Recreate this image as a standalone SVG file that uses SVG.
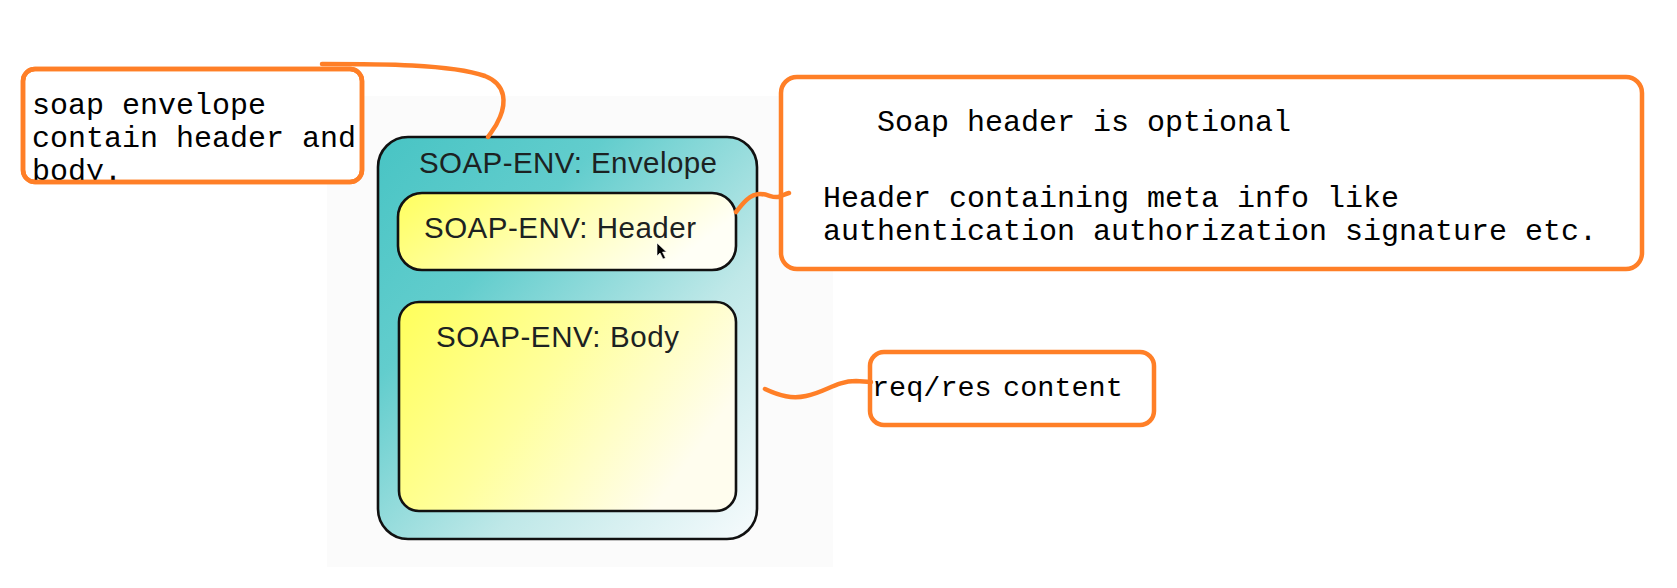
<svg xmlns="http://www.w3.org/2000/svg" width="1677" height="588" viewBox="0 0 1677 588">
  <style>
    .note { fill: #ffffff; stroke: #ff7f27; stroke-width: 4.5; }
    .mono { font-family: "Liberation Mono", "Courier New", monospace; font-size: 30px; fill: #000000; }
    .sans { font-family: "Liberation Sans", Arial, sans-serif; font-size: 29.5px; fill: #1c2222; }
    .box { stroke: #111111; stroke-width: 2.6; }
    .conn { fill: none; stroke: #ff7f27; stroke-width: 4.5; stroke-linecap: round; stroke-linejoin: round; }
  </style>
  <defs>
    <linearGradient id="gEnv" x1="0" y1="0" x2="1" y2="1">
      <stop offset="0" stop-color="#48c4c4"/>
      <stop offset="0.3" stop-color="#62cdcd"/>
      <stop offset="0.65" stop-color="#bfe8e8"/>
      <stop offset="1" stop-color="#f7fbfd"/>
    </linearGradient>
    <linearGradient id="gHead" x1="0" y1="0" x2="1" y2="0.3">
      <stop offset="0" stop-color="#ffff5e"/>
      <stop offset="0.55" stop-color="#ffffb4"/>
      <stop offset="1" stop-color="#fffff6"/>
    </linearGradient>
    <linearGradient id="gBody" x1="0" y1="0" x2="1" y2="0.45">
      <stop offset="0" stop-color="#ffff5a"/>
      <stop offset="0.5" stop-color="#ffff9e"/>
      <stop offset="1" stop-color="#fffdee"/>
    </linearGradient>
    <clipPath id="clipLeft">
      <rect x="20" y="66" width="346" height="115"/>
    </clipPath>
  </defs>

  <rect x="0" y="0" width="1677" height="588" fill="#ffffff"/>
  <rect x="327" y="96" width="506" height="471" fill="#fbfbfb"/>

  <g id="envelope">
    <rect class="box" x="378" y="137" width="379" height="402" rx="30" fill="url(#gEnv)"/>
    <text class="sans" x="419" y="173" textLength="298" lengthAdjust="spacing">SOAP-ENV: Envelope</text>
  </g>

  <g id="header">
    <rect class="box" x="398" y="193" width="338" height="77" rx="24" fill="url(#gHead)"/>
    <text class="sans" x="424" y="238" textLength="272" lengthAdjust="spacing">SOAP-ENV: Header</text>
    <path d="M657 243 L657 256 L660 253 L663 259 L665.5 258 L662.5 252 L666.5 252 Z" fill="#000000" stroke="#ffffff" stroke-width="0.6"/>
  </g>

  <g id="body">
    <rect class="box" x="399" y="302" width="337" height="209" rx="20" fill="url(#gBody)"/>
    <text class="sans" x="436" y="347" textLength="243" lengthAdjust="spacing">SOAP-ENV: Body</text>
  </g>

  <g id="note-envelope">
    <rect class="note" x="23" y="69" width="339" height="113" rx="12"/>
    <g clip-path="url(#clipLeft)">
      <text class="mono" x="32" y="114">soap envelope</text>
      <text class="mono" x="32" y="147">contain header and</text>
      <text class="mono" x="32" y="180">body.</text>
    </g>
    <rect x="23" y="69" width="339" height="113" rx="12" fill="none" stroke="#ff7f27" stroke-width="4.5"/>
  </g>

  <g id="note-header">
    <rect class="note" x="781" y="77" width="861" height="192" rx="16"/>
    <text class="mono" x="877" y="131">Soap header is optional</text>
    <text class="mono" x="823" y="207">Header containing meta info like</text>
    <text class="mono" x="823" y="240">authentication authorization signature etc.</text>
  </g>

  <g id="note-body">
    <rect class="note" x="870" y="352" width="284" height="73" rx="14"/>
    <text class="mono" style="font-size:28.5px" x="872" y="396">req/res<tspan x="986"> content</tspan></text>
  </g>

  <g id="connectors">
    <path class="conn" d="M322 64 C380 64 450 64 485 76 C508 85 505 105 500 117 C496 127 492 131 488 137"/>
    <path class="conn" d="M736 212 C743 203 750 194 760 194 C768 194 772 198 778 197 C782 196 785 194 789 193"/>
    <path class="conn" d="M765 389 C780 396 792 399 806 396 C826 392 836 381 856 381 L871 382"/>
  </g>
</svg>
